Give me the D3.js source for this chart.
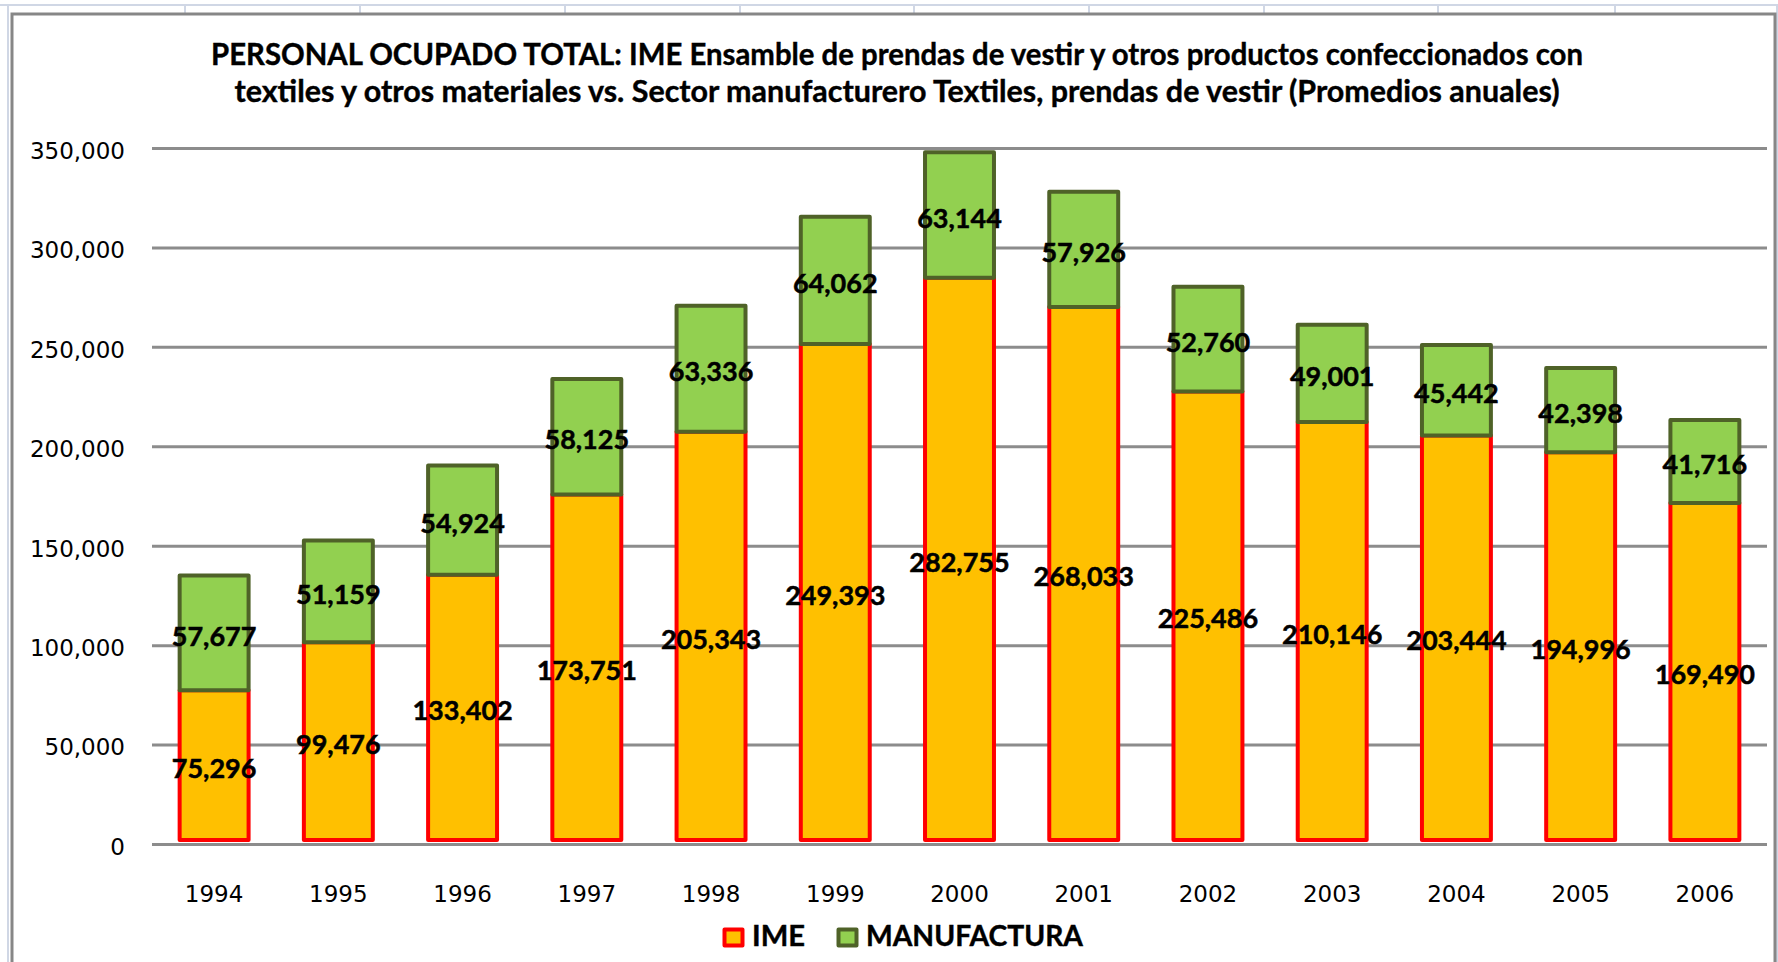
<!DOCTYPE html>
<html>
<head>
<meta charset="utf-8">
<script src="https://cdn.jsdelivr.net/npm/d3@7"></script>
<style>
  html, body { margin: 0; padding: 0; background: #ffffff; }
  svg { display: block; }
</style>
</head>
<body>
<svg id="chart" width="1778" height="962"></svg>
<script>
// ---- data ----
const years = ["1994","1995","1996","1997","1998","1999","2000","2001","2002","2003","2004","2005","2006"];
const ime = [75296, 99476, 133402, 173751, 205343, 249393, 282755, 268033, 225486, 210146, 203444, 194996, 169490];
const manufactura = [57677, 51159, 54924, 58125, 63336, 64062, 63144, 57926, 52760, 49001, 45442, 42398, 41716];
const seriesNames = ["IME", "MANUFACTURA"];
const yTicks = [0, 50000, 100000, 150000, 200000, 250000, 300000, 350000];
const titleLines = [
  "PERSONAL OCUPADO TOTAL: IME Ensamble de prendas de vestir y otros  productos confeccionados con",
  "textiles y otros materiales vs. Sector manufacturero Textiles, prendas de vestir (Promedios anuales)"
];

// ---- styles ----
const fills = {"IME": "#FFC000", "MANUFACTURA": "#92D050"};
const strokes = {"IME": "#FF0000", "MANUFACTURA": "#4F6228"};
const sheetLine = "#D0D7E5";

const svg = d3.select("#chart");
const W = 1778, H = 962;

// spreadsheet background peeking around the chart object
const cellCols = [185, 360, 565, 740, 914, 1089, 1264, 1438, 1615];
svg.append("line").attr("x1", 0).attr("x2", W).attr("y1", 5).attr("y2", 5)
  .attr("stroke", sheetLine).attr("stroke-width", 2);
svg.selectAll("line.col").data(cellCols).join("line").attr("class", "col")
  .attr("x1", d => d).attr("x2", d => d).attr("y1", 5).attr("y2", 14)
  .attr("stroke", sheetLine).attr("stroke-width", 2);
svg.append("line").attr("x1", 8).attr("x2", 8).attr("y1", 5).attr("y2", H)
  .attr("stroke", sheetLine).attr("stroke-width", 2);
svg.append("line").attr("x1", 1777).attr("x2", 1777).attr("y1", 5).attr("y2", H)
  .attr("stroke", sheetLine).attr("stroke-width", 2);

// chart object border
svg.append("rect").attr("x", 12).attr("y", 14).attr("width", 1763).attr("height", 1000)
  .attr("fill", "#ffffff").attr("stroke", "#878787").attr("stroke-width", 3);

// ---- scales ----
const plot = {left: 152, right: 1767, top: 148, bottom: 844};
const x = d3.scaleBand().domain(years).range([plot.left, plot.right])
  .paddingInner(0.445).paddingOuter(0.2225);
const y = d3.scaleLinear().domain([0, 350000]).range([plot.bottom, plot.top]);

// ---- y axis with gridlines ----
const yAxis = d3.axisLeft(y).tickValues(yTicks).tickFormat(d3.format(","))
  .tickSizeInner(-(plot.right - plot.left)).tickSizeOuter(0).tickPadding(27);
const gy = svg.append("g").attr("transform", `translate(${plot.left},0)`).call(yAxis);
gy.select(".domain").remove();
gy.selectAll(".tick line").attr("stroke", "#8C8C8C").attr("stroke-width", 3);
gy.selectAll(".tick text").attr("font-family", "'DejaVu Sans', sans-serif")
  .attr("font-size", 23).attr("fill", "#000").attr("dy", "0.45em");

// ---- x axis ----
const xAxis = d3.axisBottom(x).tickSize(0).tickPadding(42);
const gx = svg.append("g").attr("transform", `translate(0,${plot.bottom})`).call(xAxis);
gx.select(".domain").remove();
gx.selectAll(".tick text").attr("font-family", "'DejaVu Sans', sans-serif")
  .attr("font-size", 23).attr("fill", "#000");

// ---- stacked bars ----
const rows = years.map((yr, i) => ({year: yr, IME: ime[i], MANUFACTURA: manufactura[i]}));
const stacked = d3.stack().keys(seriesNames)(rows);

const barsG = svg.append("g").attr("transform", "translate(0,-4)");
stacked.forEach(layer => {
  barsG.append("g").selectAll("rect").data(layer).join("rect")
    .attr("x", d => x(d.data.year))
    .attr("width", x.bandwidth())
    .attr("y", d => y(d[1]))
    .attr("height", d => y(d[0]) - y(d[1]))
    .attr("fill", fills[layer.key])
    .attr("stroke", strokes[layer.key])
    .attr("stroke-width", 4)
    .attr("stroke-linejoin", "round");
});
// labels
stacked.forEach(layer => {
  barsG.append("g").selectAll("text").data(layer).join("text")
    .attr("x", d => x(d.data.year) + x.bandwidth() / 2)
    .attr("y", d => (y(d[0]) + y(d[1])) / 2)
    .attr("dy", "0.47em")
    .attr("text-anchor", "middle")
    .attr("font-family", "Lato, sans-serif")
    .attr("font-weight", "bold")
    .attr("font-size", 27)
    .attr("stroke", "#000").attr("stroke-width", 0.5)
    .attr("fill", "#000")
    .text(d => d3.format(",")(d[1] - d[0]));
});

// ---- title ----
const titleWidths = [1372, 1325];
const titleBaselines = [65, 102];
svg.append("g").selectAll("text").data(titleLines).join("text")
  .attr("x", 897).attr("y", (d, i) => titleBaselines[i])
  .attr("text-anchor", "middle")
  .attr("font-family", "Lato, sans-serif").attr("font-weight", "bold")
  .attr("font-size", 30).attr("fill", "#000")
  .attr("stroke", "#000").attr("stroke-width", 0.4)
  .attr("textLength", (d, i) => titleWidths[i])
  .attr("lengthAdjust", "spacingAndGlyphs")
  .text(d => d);

// ---- legend ----
const legendX = {"IME": 723, "MANUFACTURA": 837};
const legendW = {"IME": 53, "MANUFACTURA": 217};
const lg = svg.append("g");
seriesNames.forEach(name => {
  lg.append("rect").attr("x", legendX[name] + 1.5).attr("y", 929.5)
    .attr("width", 18).attr("height", 16)
    .attr("fill", fills[name]).attr("stroke", strokes[name]).attr("stroke-width", 4)
    .attr("stroke-linejoin", "round");
  lg.append("text").attr("x", legendX[name] + 29).attr("y", 946)
    .attr("font-family", "Lato, sans-serif").attr("font-weight", "bold")
    .attr("font-size", 28).attr("fill", "#000")
    .attr("stroke", "#000").attr("stroke-width", 0.4)
    .attr("textLength", legendW[name]).attr("lengthAdjust", "spacingAndGlyphs")
    .text(name);
});
</script>
</body>
</html>
